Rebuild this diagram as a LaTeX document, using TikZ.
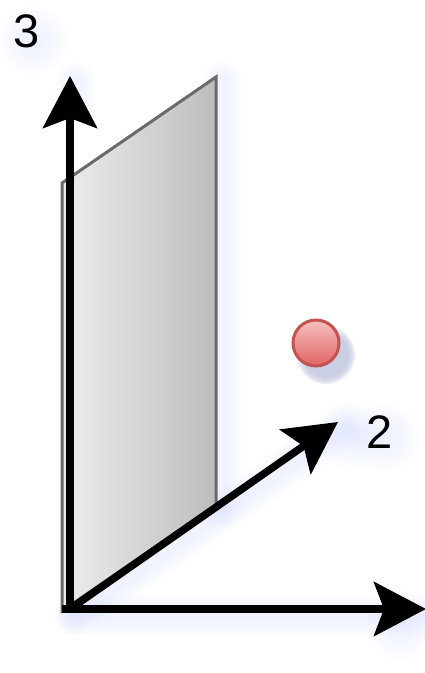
\documentclass[tikz,border=0pt]{standalone}
\usepackage{fontspec}
\setmainfont{Liberation Sans}
\usetikzlibrary{arrows.meta}
\definecolor{glowblue}{HTML}{B8C2FF}
\definecolor{panelL}{HTML}{EDEDED}
\definecolor{panelR}{HTML}{BDBDBD}
\definecolor{panelEdge}{HTML}{6A6A6A}
\definecolor{ballTop}{HTML}{F7C0C0}
\definecolor{ballBot}{HTML}{E06464}
\definecolor{ballEdge}{HTML}{C4524F}
\definecolor{ballShadow}{HTML}{B9C0DC}
\tikzset{
  axis/.style={line width=7.5pt, -{Stealth[length=52pt,width=54pt,inset=10pt]}},
  glow/.style={glowblue, line cap=round, line join=round, opacity=0.04},
  lbl/.style={font=\fontsize{47}{47}\selectfont, inner sep=0pt},
}
\begin{document}
\begin{tikzpicture}[x=1pt,y=-1pt]
\useasboundingbox (0,0) rectangle (424,673);
% coordinates
\coordinate (O) at (70,609);
\coordinate (T3) at (70,76);
\coordinate (T1) at (426,609);
\coordinate (T2) at (338,422);
\coordinate (P1) at (62,611);
\coordinate (P2) at (216,505);
\coordinate (P3) at (216,77);
\coordinate (P4) at (62,183);
% glows
\foreach \w in {40,34,28,22,16,10}{
  \draw[glow, line width=\w pt] ([shift={(5,6)}]O) -- ([shift={(5,6)}]T1);
  \draw[glow, line width=\w pt] ([shift={(5,6)}]O) -- ([shift={(5,6)}]T2);
  \draw[glow, line width=\w pt] ([shift={(6,4)}]P3) -- ([shift={(6,4)}]P2);
  \draw[glow, line width=\w pt] ([shift={(6,6)}]T3) -- ([shift={(6,30)}]T3);
}
\foreach \r in {34,29,24,19,14,9}{
  \fill[glowblue, opacity=0.04] (33,40) circle (\r pt);
  \fill[glowblue, opacity=0.04] (385,438) circle (\r pt);
  \fill[glowblue, opacity=0.04] (350,435) circle (\r pt);
  \fill[glowblue, opacity=0.04] (400,625) circle (\r pt);
}
% panel
\shade[left color=panelL, right color=panelR] (P1) -- (P2) -- (P3) -- (P4) -- cycle;
\draw[panelEdge, line width=3pt, line join=miter] (P1) -- (P2) -- (P3) -- (P4) -- cycle;
% ball shadow and ball
\foreach \r in {29,27,25,23}{
  \fill[ballShadow, opacity=0.3] (326,355) circle (\r pt);
}
\shade[top color=ballTop, bottom color=ballBot] (316,343) circle (23pt);
\draw[ballEdge, line width=3pt] (316,343) circle (23pt);
\node (ball) at (316,343) [circle, minimum size=46pt, inner sep=0pt] {};
% axes
\draw[axis] (O) -- (T3);
\draw[axis] (62,609) -- (T1);
\draw[axis] (O) -- (T2);
% labels
\node[lbl] (l3) at (27,31) {3};
\node[lbl] (l2) at (380,432) {2};
\node[lbl] (l1) at (437,662) {1};
\end{tikzpicture}
\end{document}
